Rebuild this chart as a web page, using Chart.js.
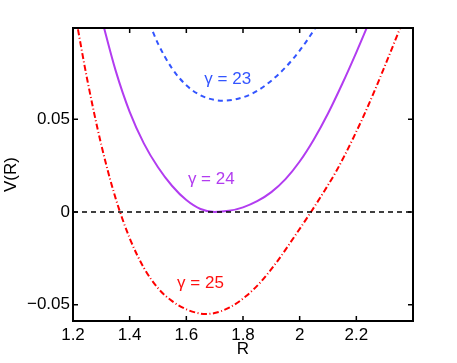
<!DOCTYPE html>
<html>
<head>
<meta charset="utf-8">
<script src="https://cdn.jsdelivr.net/npm/chart.js@4.4.1/dist/chart.umd.min.js"></script>
<style>
html,body{margin:0;padding:0;background:#fff;}
#wrap{width:457px;height:363px;position:relative;}
</style>
</head>
<body>
<div id="wrap"><canvas id="c" width="457" height="363"></canvas></div>
<script>
// gamma = 23 (blue, dashed)
const R23 = [1.47, 1.50, 1.55, 1.60, 1.65, 1.70, 1.73, 1.80, 1.85, 1.90, 1.95, 2.00, 2.05, 2.07];
const V23 = [0.1016, 0.0908, 0.0773, 0.0683, 0.0629, 0.0604, 0.0600, 0.0618, 0.0653, 0.0708, 0.0780, 0.0870, 0.0980, 0.1030];
// gamma = 24 (purple, solid)
const R24 = [1.30, 1.35, 1.40, 1.45, 1.50, 1.55, 1.60, 1.65, 1.70, 1.75, 1.80, 1.85, 1.90, 1.95, 2.00, 2.05, 2.10, 2.15, 2.20, 2.25];
const V24 = [0.1048, 0.0765, 0.0540, 0.0370, 0.0241, 0.0140, 0.0064, 0.0016, 0.0000, 0.0006, 0.0025, 0.0058, 0.0107, 0.0177, 0.0272, 0.0391, 0.0531, 0.0690, 0.0861, 0.1041];
// gamma = 25 (red, dash-dot)
const R25 = [1.21, 1.25, 1.30, 1.35, 1.40, 1.45, 1.50, 1.55, 1.60, 1.65, 1.67, 1.70, 1.753, 1.81, 1.864, 1.923, 1.981, 2.040, 2.094, 2.130, 2.188, 2.241, 2.300, 2.353, 2.360];
const V25 = [0.1048, 0.0716, 0.0361, 0.0076, -0.0141, -0.0301, -0.0411, -0.0481, -0.0525, -0.0548, -0.0550, -0.0545, -0.0515, -0.0455, -0.0375, -0.0262, -0.0134, 0.0000, 0.0130, 0.0222, 0.0395, 0.0570, 0.0785, 0.0986, 0.1013];
// zero reference line
const R0 = [1.2, 2.4];
const V0 = [0, 0];

// ticks
const xTickVals = [1.2, 1.4, 1.6, 1.8, 2.0, 2.2];
const xTickText = ['1.2', '1.4', '1.6', '1.8', '2', '2.2'];
const yTickVals = [-0.05, 0, 0.05];
const yTickText = ['\u22120.05', '0', '0.05'];

// curve labels
const labelText = ['\u03b3 = 23', '\u03b3 = 24', '\u03b3 = 25'];
const labelR = [1.746, 1.688, 1.650];
const labelV = [0.0716, 0.0178, -0.0385];
const labelColor = ['#3355ff', '#b23cf0', '#ff1010'];

const toXY = (xs, ys) => xs.map((x, i) => ({x: x, y: ys[i]}));
const FONT = {family: '"Liberation Sans", Arial, Helvetica, sans-serif', size: 17};

const framePlugin = {
  id: 'frame',
  afterDatasetsDraw(chart) {
    const ctx = chart.ctx;
    const a = chart.chartArea;
    const xs = chart.scales.x, ys = chart.scales.y;
    ctx.save();
    // curve labels
    ctx.font = '17px "Liberation Sans", Arial, sans-serif';
    ctx.textAlign = 'center';
    ctx.textBaseline = 'middle';
    labelText.forEach((t, i) => {
      ctx.fillStyle = labelColor[i];
      ctx.fillText(t, xs.getPixelForValue(labelR[i]), ys.getPixelForValue(labelV[i]));
    });
    // box
    ctx.strokeStyle = '#000';
    ctx.lineWidth = 2;
    ctx.strokeRect(a.left, a.top, a.right - a.left, a.bottom - a.top);
    // inward ticks
    ctx.lineWidth = 1.5;
    const tl = 5;
    ctx.beginPath();
    xTickVals.forEach(v => {
      const px = xs.getPixelForValue(v);
      ctx.moveTo(px, a.bottom); ctx.lineTo(px, a.bottom - tl);
      ctx.moveTo(px, a.top); ctx.lineTo(px, a.top + tl);
    });
    yTickVals.forEach(v => {
      const py = ys.getPixelForValue(v);
      ctx.moveTo(a.left, py); ctx.lineTo(a.left + tl, py);
      ctx.moveTo(a.right, py); ctx.lineTo(a.right - tl, py);
    });
    ctx.stroke();
    ctx.restore();
  }
};

new Chart(document.getElementById('c'), {
  type: 'line',
  data: {
    datasets: [
      {data: toXY(R0, V0), borderColor: '#000', borderWidth: 1.5, borderDash: [5, 4], pointRadius: 0, tension: 0},
      {data: toXY(R23, V23), borderColor: '#3355ff', borderWidth: 2, borderDash: [5, 4], pointRadius: 0, cubicInterpolationMode: 'monotone'},
      {data: toXY(R24, V24), borderColor: '#b23cf0', borderWidth: 2, pointRadius: 0, cubicInterpolationMode: 'monotone'},
      {data: toXY(R25, V25), borderColor: '#ff0000', borderWidth: 2, borderDash: [6, 2.5, 1, 2.5], pointRadius: 0, cubicInterpolationMode: 'monotone'}
    ]
  },
  options: {
    responsive: false,
    devicePixelRatio: 1,
    animation: false,
    layout: {padding: {left: 0, right: 44, top: 28, bottom: 0}},
    plugins: {legend: {display: false}, tooltip: {enabled: false}},
    scales: {
      x: {
        type: 'linear', min: 1.2, max: 2.4,
        afterBuildTicks: s => { s.ticks = xTickVals.map(v => ({value: v})); },
        afterFit: s => { s.height = 42; },
        ticks: {callback: (v, i) => xTickText[i], font: FONT, color: '#000', padding: 4, maxRotation: 0, autoSkip: false},
        grid: {display: false, drawTicks: false},
        border: {display: false},
        title: {display: true, text: 'R', font: FONT, color: '#000', padding: {top: 0, bottom: 3}}
      },
      y: {
        type: 'linear', min: -0.0588, max: 0.0992,
        afterBuildTicks: s => { s.ticks = yTickVals.map(v => ({value: v})); },
        afterFit: s => { s.width = 73; },
        ticks: {callback: (v, i) => yTickText[i], font: FONT, color: '#000', padding: 3, autoSkip: false},
        grid: {display: false, drawTicks: false},
        border: {display: false},
        title: {display: true, text: 'V(R)', font: FONT, color: '#000', padding: {top: 1, bottom: 0}}
      }
    }
  },
  plugins: [framePlugin]
});
</script>
</body>
</html>
